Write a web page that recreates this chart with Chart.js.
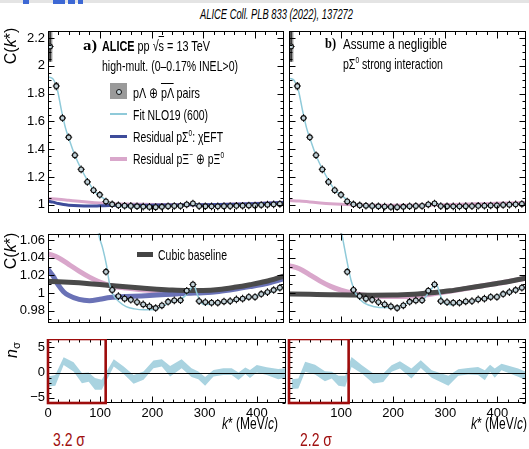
<!DOCTYPE html>
<html><head><meta charset="utf-8">
<script src="https://cdn.jsdelivr.net/npm/chart.js@4.4.0/dist/chart.umd.min.js"></script>
<style>
html,body{margin:0;padding:0;background:#fff;}
#wrap{position:relative;width:529px;height:449px;overflow:hidden;background:#fff;font-family:'Liberation Sans Narrow','Liberation Sans',Arial,sans-serif;color:#000;}
#wrap canvas{position:absolute;}
.t{position:absolute;white-space:nowrap;line-height:1;transform-origin:0 50%;}
.s{position:absolute;}
.yt{position:absolute;white-space:nowrap;line-height:1;transform:translate(-50%,-50%) rotate(-90deg);font-size:16px;}
sup{font-size:0.62em;line-height:0;vertical-align:0.6em;}
sub{font-size:0.7em;line-height:0;vertical-align:-0.25em;}
.ov{text-decoration:overline;}
.blk{position:absolute;top:0;height:4px;background:#3d68d4;}
</style></head><body><div id="wrap">
<canvas id="cTL" width="287" height="202" style="left:0px;top:27px;width:287px;height:202px"></canvas>
<canvas id="cML" width="287" height="109" style="left:0px;top:230px;width:287px;height:109px"></canvas>
<canvas id="cBL" width="287" height="80" style="left:0px;top:339px;width:287px;height:80px"></canvas>
<canvas id="cTR" width="259" height="202" style="left:270px;top:27px;width:259px;height:202px"></canvas>
<canvas id="cMR" width="259" height="109" style="left:270px;top:230px;width:259px;height:109px"></canvas>
<canvas id="cBR" width="259" height="80" style="left:270px;top:339px;width:259px;height:80px"></canvas>

<div class="s" style="left:0;top:0;width:529px;height:3px;background:#e4e4e4"></div>
<div class="blk" style="left:23px;width:6px"></div>
<div class="blk" style="left:53px;width:12px"></div>
<div class="blk" style="left:68px;width:7px"></div>
<div class="blk" style="left:78px;width:5px"></div>

<div class="t" data-w="153" style="left:200px;top:7px;font-size:14px;font-style:italic">ALICE Coll. PLB 833 (2022), 137272</div>

<div class="t" data-w="14" style="left:83px;top:37.5px;font-size:15px;font-family:'Liberation Serif',serif;font-weight:bold">a)</div>
<div class="t" data-w="108" style="left:102px;top:37.5px;font-size:15px"><b>ALICE</b> pp √<span class="ov">s</span> = 13 TeV</div>
<div class="t" data-w="136" style="left:102px;top:57.5px;font-size:15px">high-mult. (0–0.17% INEL&gt;0)</div>

<div class="s" style="left:110px;top:83px;width:17px;height:16px;background:#9a9a9a"></div>
<div class="s" style="left:116px;top:88.5px;width:4px;height:4px;border:1px solid #111;border-radius:50%;background:#c2d2d9"></div>
<div class="t" data-w="67" style="left:133px;top:84.5px;font-size:15px">pΛ ⊕ <span class="ov">p</span><span class="ov">Λ</span> pairs</div>
<div class="s" style="left:110px;top:113px;width:17px;height:2px;background:#8fcad9"></div>
<div class="t" data-w="75" style="left:133px;top:106.5px;font-size:15px">Fit NLO19 (600)</div>
<div class="s" style="left:110px;top:134.5px;width:17px;height:3.5px;background:#3e4c9a"></div>
<div class="t" data-w="90" style="left:133px;top:128.5px;font-size:15px">Residual pΣ<sup>0</sup>: χEFT</div>
<div class="s" style="left:110px;top:157px;width:17px;height:3.5px;background:#d9a7cb"></div>
<div class="t" data-w="91" style="left:133px;top:150.5px;font-size:15px">Residual pΞ<sup>−</sup> ⊕ pΞ<sup>0</sup></div>

<div class="s" style="left:137px;top:251.5px;width:16px;height:5px;background:#444"></div>
<div class="t" data-w="69" style="left:158px;top:246.5px;font-size:15px">Cubic baseline</div>

<div class="t" data-w="11" style="left:325px;top:35.5px;font-size:15px;font-family:'Liberation Serif',serif;font-weight:bold">b)</div>
<div class="t" data-w="104" style="left:343px;top:35.5px;font-size:15px">Assume a negligible</div>
<div class="t" data-w="100" style="left:343px;top:55.5px;font-size:15px">pΣ<sup>0</sup> strong interaction</div>

<div class="yt" style="left:11px;top:46px">C(<i>k</i>*)</div>
<div class="yt" style="left:11px;top:251px">C(<i>k</i>*)</div>
<div class="yt" style="left:12px;top:350px;font-size:16px"><i>n</i><sub>σ</sub></div>

<div class="t" data-w="56" style="left:222px;top:416px;font-size:16px"><i>k</i>* (MeV/<i>c</i>)</div>
<div class="t" data-w="56" style="left:471px;top:416px;font-size:16px"><i>k</i>* (MeV/<i>c</i>)</div>
<div class="t" data-w="32" style="left:53px;top:431px;font-size:18px;color:#a01010">3.2 σ</div>
<div class="t" data-w="32" style="left:300px;top:431px;font-size:18px;color:#a01010">2.2 σ</div>
</div>
<script>
// ---------- data ----------
const kData = [4,16,28,40,52,64,76,88,100,112,124,136,148,160,172,184,196,208,220,232,244,256,268,280,292,304,316,328,340,352,364,376,388,400,412,424,436,448];
const cData = [2.14,1.855,1.625,1.486,1.357,1.255,1.165,1.105,1.072,1.024,1.0035,0.9965,0.9936,0.9923,0.9897,0.9871,0.9848,0.983,0.9859,0.990,0.9916,0.9917,1.0026,1.0097,0.9908,0.9897,0.989,0.989,0.9904,0.9908,0.9928,0.9936,0.9955,0.9955,0.9988,1.001,1.0034,1.006];
const cStat = [0.11,0.03,0.02,0.015,0.012,0.01,0.008,0.007,0.006,0.0035,0.0034,0.0033,0.0032,0.0031,0.003,0.003,0.003,0.003,0.003,0.003,0.003,0.003,0.003,0.003,0.003,0.003,0.003,0.003,0.003,0.003,0.003,0.003,0.003,0.003,0.003,0.003,0.003,0.003];
const cSyst = [0.11,0.025,0.012,0.009,0.007,0.005,0.004,0.003,0.002,0.0015,0.001,0.001,0.001,0.001,0.001,0.001,0.001,0.001,0.001,0.001,0.001,0.001,0.001,0.001,0.001,0.001,0.001,0.001,0.001,0.001,0.001,0.001,0.001,0.001,0.001,0.001,0.001,0.001];

const fitKA = [2,10,18,26,34,42,50,58,66,74,82,90,97,106,113,119,125,138,151,167,186,205,221,237,256,269,282,288,295,304,314,330,350,370,390,410,430,455];
const fitCA = [1.92,1.905,1.83,1.68,1.55,1.46,1.375,1.305,1.245,1.19,1.14,1.10,1.069,1.050,1.0316,1.010,0.999,0.9898,0.9845,0.982,0.981,0.9814,0.985,0.9898,0.9929,0.999,1.0084,0.999,0.9898,0.9867,0.9876,0.989,0.990,0.9925,0.995,0.998,1.001,1.0065];
const fitKB = [2,10,18,26,34,42,50,58,66,74,82,90,101,111,120,130,146,165,184,203,223,242,258,271,283,293,299,312,325,350,370,390,410,430,455];
const fitCB = [1.91,1.895,1.825,1.68,1.55,1.46,1.375,1.305,1.245,1.19,1.14,1.10,1.0688,1.0378,1.013,0.9975,0.9882,0.9845,0.9835,0.9835,0.9876,0.9913,0.9928,1.0022,1.010,0.9944,0.9882,0.9867,0.9882,0.9905,0.993,0.9955,0.9985,1.002,1.007];

const resK = [0,20,40,60,80,100,120,150,180,210,240,270,300,330,360,390,420,455];
const pinkA = [1.0445,1.040,1.0325,1.0248,1.018,1.0125,1.0085,1.0055,1.0036,1.0024,1.0016,1.0012,1.0014,1.0026,1.0052,1.0084,1.0122,1.0185];
const baseA = [1.0132,1.0128,1.0122,1.0115,1.0106,1.0096,1.0085,1.007,1.0056,1.0043,1.0033,1.0028,1.0029,1.004,1.0064,1.0094,1.013,1.019];
const pinkB = [1.031,1.0275,1.0205,1.0135,1.0075,1.0032,1.000,0.9971,0.9961,0.9961,0.9967,0.9983,1.0012,1.004,1.0069,1.0098,1.0128,1.0167];
const blueK = [0,10,20,30,40,60,80,100,120,150,180,210,240,270,300,330,360,390,420,455];
const blueA = [1.027,1.019,1.0088,1.0015,0.9973,0.9927,0.9913,0.9928,0.9948,0.9959,0.9967,0.9978,0.9987,0.9997,1.0004,1.0018,1.0042,1.0072,1.0105,1.016];
const baseKB = [0,40,80,120,160,200,240,280,310,340,370,400,430,455];
const baseB = [0.999,0.9985,0.998,0.9976,0.9975,0.9976,0.9986,1.0006,1.0025,1.0052,1.008,1.0108,1.0138,1.017];

const nsKA = [1,14,30,49,65,78,90,103,126,145,164,183,202,218,234,256,275,288,301,317,336,352,365,378,387,400,419,441,455];
const nsHiA = [-0.8,-0.5,3.0,2.0,-0.1,0,-1.1,-1.4,2.6,1.2,-0.5,0.2,2.35,2.6,1.3,2.6,0.85,0.2,-0.9,0.5,0.85,0.85,0,1.0,0.5,1.5,1.05,0.7,0.85];
const nsLoA = [-2.75,-2.6,1.5,0.2,-2.1,-1.8,-3.4,-3.4,1.2,-0.3,-2.2,-1.4,0.85,1.2,-0.8,0.85,-0.9,-1.3,-2.6,-0.8,-0.5,-0.5,-1.45,-0.3,-1.1,0,-0.5,-1.3,-1.1];
const nsKB = [5,18,31,50,69,82,95,108,120,140,162,181,197,213,235,253,274,306,325,344,363,376,386,395,408,440,455];
const nsHiB = [-1.3,-1.2,2.1,1.55,0.25,0.15,-0.65,-0.65,3.05,1.45,-0.2,-0.2,1.45,2.2,0.8,2.4,0.45,-0.65,0.65,0.9,1.1,0.45,1.55,0.8,1.75,0.8,0.15];
const nsLoB = [-3.25,-3.15,0.15,-0.4,-1.7,-1.2,-2.6,-2.8,1.1,-0.2,-2.15,-1.85,0.15,0.8,-1.2,0.9,-1.05,-2.6,-0.65,-0.4,-0.5,-1.5,0.15,-1.05,0.45,-0.85,-1.5];

const sigmaRangeA = [0,110.5];
const sigmaRangeB = [0,114.5];

const yTicksTop = [1,1.2,1.4,1.6,1.8,2,2.2];
const yTicksMid = [0.98,1,1.02,1.04,1.06];
const yTicksBot = [-5,0,5];
const xTicksA = [0,100,200,300,400];
const xTicksB = [100,200,300,400];

// ---------- helpers ----------
const FONT = "'Liberation Sans Narrow','Liberation Sans',Arial,sans-serif";
const COL = {fit:'#8fcad9', blueT:'#3e4c9a', blueM:'#6a72b6', pink:'#d9a7cb', gray:'#4a4a4a', band:'#a9d3e0', red:'#9e0c0c'};
const pts = (ks, vs) => ks.map((k,i) => ({x:k, y:vs[i]}));
const curve = (ks, vs, color, w) => ({data: pts(ks,vs), borderColor: color, borderWidth: w, pointRadius: 0, fill: false, cubicInterpolationMode: 'monotone', borderCapStyle: 'butt'});
const dataSet = () => ({data: pts(kData,cData), showLine: false, pointRadius: 2.4, pointHoverRadius: 2.4, pointStyle: 'circle', pointBackgroundColor: '#c2d2d9', pointBorderColor: '#111', pointBorderWidth: 1.1, errStat: cStat, errSyst: cSyst, systHalf: 4.5});
const band = (ks, hi, lo) => [
  {data: pts(ks,hi), borderColor: 'rgba(0,0,0,0)', borderWidth: 0, pointRadius: 0, backgroundColor: COL.band, fill: '+1', tension: 0},
  {data: pts(ks,lo), borderColor: 'rgba(0,0,0,0)', borderWidth: 0, pointRadius: 0, fill: false, tension: 0}
];
const fmt = v => String(+(+v).toFixed(3)).replace('-', '\u2212');

const rootPlugin = {
  id: 'rootFrame',
  beforeDatasetDraw(chart, args) {
    const ds = chart.data.datasets[args.index];
    if (!ds.errStat) return;
    const {ctx, chartArea: a} = chart; const x = chart.scales.x, y = chart.scales.y;
    ctx.save();
    ctx.beginPath(); ctx.rect(a.left, a.top, a.right - a.left, a.bottom - a.top); ctx.clip();
    ds.data.forEach((p, i) => {
      const px = x.getPixelForValue(p.x), py = y.getPixelForValue(p.y);
      const s = ds.errSyst[i];
      const x0 = x.getPixelForValue(p.x - ds.systHalf), x1 = x.getPixelForValue(p.x + ds.systHalf);
      const y0 = y.getPixelForValue(p.y + s), y1 = y.getPixelForValue(p.y - s);
      ctx.fillStyle = '#9b9b9b'; ctx.fillRect(x0, y0, x1 - x0, y1 - y0);
      const e = ds.errStat[i];
      const ya = y.getPixelForValue(p.y + e), yb = y.getPixelForValue(p.y - e);
      ctx.strokeStyle = '#000'; ctx.lineWidth = 1.1;
      ctx.beginPath();
      ctx.moveTo(px, Math.min(ya, py - 3.8)); ctx.lineTo(px, Math.max(yb, py + 3.8));
      ctx.moveTo(px - 3.5, py); ctx.lineTo(px + 3.5, py);
      ctx.stroke();
    });
    ctx.restore();
  },
  afterDraw(chart) {
    const o = chart.options.plugins.rootFrame || {};
    const {ctx, chartArea: a} = chart; const x = chart.scales.x, y = chart.scales.y;
    ctx.save();
    if (o.zero) {
      const zy = Math.round(y.getPixelForValue(0)) + 0.5;
      ctx.strokeStyle = '#000'; ctx.lineWidth = 1;
      ctx.beginPath(); ctx.moveTo(a.left, zy); ctx.lineTo(a.right, zy); ctx.stroke();
    }
    ctx.strokeStyle = '#000'; ctx.lineWidth = 1;
    const L = Math.round(a.left) + 0.5, R = Math.round(a.right) - 0.5, T = Math.round(a.top) + 0.5, B = Math.round(a.bottom) - 0.5;
    ctx.strokeRect(L, T, R - L, B - T);
    ctx.beginPath();
    const n0 = Math.ceil(x.min / o.xMinor - 1e-9), n1 = Math.floor(x.max / o.xMinor + 1e-9);
    for (let n = n0; n <= n1; n++) {
      const v = n * o.xMinor; const px = Math.round(x.getPixelForValue(v)) + 0.5;
      const maj = Math.abs(v / o.xMajor - Math.round(v / o.xMajor)) < 1e-6;
      const len = maj ? o.xLen : o.xLen * 0.5;
      ctx.moveTo(px, B); ctx.lineTo(px, B - len);
      ctx.moveTo(px, T); ctx.lineTo(px, T + len);
    }
    const m0 = Math.ceil(y.min / o.yMinor - 1e-9), m1 = Math.floor(y.max / o.yMinor + 1e-9);
    for (let n = m0; n <= m1; n++) {
      const v = n * o.yMinor; const py = Math.round(y.getPixelForValue(v)) + 0.5;
      const maj = Math.abs(v / o.yMajor - Math.round(v / o.yMajor)) < 1e-6;
      const len = maj ? 6 : 3;
      ctx.moveTo(L, py); ctx.lineTo(L + len, py);
      ctx.moveTo(R, py); ctx.lineTo(R - len, py);
    }
    ctx.stroke();
    if (o.box) {
      const bx0 = x.getPixelForValue(o.box[0]), bx1 = x.getPixelForValue(o.box[1]);
      ctx.strokeStyle = COL.red; ctx.lineWidth = 2.6;
      ctx.strokeRect(bx0, a.top, bx1 - bx0, a.bottom - a.top);
    }
    ctx.restore();
  }
};

function makeChart(id, c) {
  return new Chart(document.getElementById(id), {
    type: 'line',
    data: {datasets: c.datasets},
    options: {
      responsive: false, maintainAspectRatio: false, animation: false, devicePixelRatio: 1,
      events: [],
      layout: {padding: {left: 0, right: c.padR, top: 0, bottom: 0}},
      plugins: {legend: {display: false}, tooltip: {enabled: false}, rootFrame: c.frame},
      scales: {
        x: {type: 'linear', min: 0, max: 455, display: !!c.xLabels,
            grid: {display: false, drawTicks: false}, border: {display: false},
            ticks: {font: {family: FONT, size: 13}, color: '#000', padding: 3, maxRotation: 0, autoSkip: false, callback: v => fmt(v)},
            afterBuildTicks: s => { s.ticks = (c.xLabels || []).map(v => ({value: v})); },
            afterFit: s => { s.height = 16; s.paddingLeft = 0; s.paddingRight = 0; }},
        y: {type: 'linear', min: c.ymin, max: c.ymax,
            grid: {display: false, drawTicks: false}, border: {display: false},
            ticks: {display: !!c.yLabels, font: {family: FONT, size: 13}, color: '#000', padding: 3, autoSkip: false, callback: v => fmt(v)},
            afterBuildTicks: s => { s.ticks = c.yTicks.map(v => ({value: v})); },
            afterFit: s => { s.width = c.yW; s.paddingTop = 0; s.paddingBottom = 0; }}
      }
    },
    plugins: [rootPlugin]
  });
}

const fTop = {xMajor: 100, xMinor: 20, xLen: 7, yMajor: 0.2, yMinor: 0.05};
const fMid = {xMajor: 100, xMinor: 20, xLen: 6, yMajor: 0.02, yMinor: 0.01};
const L = {padR: 1.5, yW: 48}, R = {padR: 3, yW: 19};

makeChart('cTL', Object.assign({}, L, {ymin: 0.941, ymax: 2.255, yTicks: yTicksTop, yLabels: true, frame: fTop,
  datasets: [dataSet(), curve(fitKA, fitCA, COL.fit, 1.5), curve(blueK, blueA, COL.blueT, 3), curve(resK, pinkA, COL.pink, 3)]}));
makeChart('cML', Object.assign({}, L, {ymin: 0.966, ymax: 1.0674, yTicks: yTicksMid, yLabels: true, frame: fMid,
  datasets: [dataSet(), curve(fitKA, fitCA, COL.fit, 1.5), curve(resK, baseA, COL.gray, 5), curve(blueK, blueA, COL.blueM, 5), curve(resK, pinkA, COL.pink, 5)]}));
makeChart('cBL', Object.assign({}, L, {ymin: -6, ymax: 6.6, yTicks: yTicksBot, yLabels: true, xLabels: xTicksA,
  frame: {xMajor: 100, xMinor: 20, xLen: 6, yMajor: 5, yMinor: 1, zero: true, box: sigmaRangeA},
  datasets: band(nsKA, nsHiA, nsLoA)}));
makeChart('cTR', Object.assign({}, R, {ymin: 0.941, ymax: 2.255, yTicks: yTicksTop, yLabels: false, frame: fTop,
  datasets: [dataSet(), curve(fitKB, fitCB, COL.fit, 1.5), curve(resK, pinkB, COL.pink, 3)]}));
makeChart('cMR', Object.assign({}, R, {ymin: 0.966, ymax: 1.0674, yTicks: yTicksMid, yLabels: false, frame: fMid,
  datasets: [dataSet(), curve(fitKB, fitCB, COL.fit, 1.5), curve(baseKB, baseB, COL.gray, 5), curve(resK, pinkB, COL.pink, 5)]}));
makeChart('cBR', Object.assign({}, R, {ymin: -6, ymax: 6.6, yTicks: yTicksBot, yLabels: false, xLabels: xTicksB,
  frame: {xMajor: 100, xMinor: 20, xLen: 6, yMajor: 5, yMinor: 1, zero: true, box: sigmaRangeB},
  datasets: band(nsKB, nsHiB, nsLoB)}));

// fit overlay text widths
document.querySelectorAll('[data-w]').forEach(el => {
  const w = el.getBoundingClientRect().width, t = +el.dataset.w;
  if (w > 0) el.style.transform = 'scaleX(' + (t / w) + ')';
});
</script>
</body></html>
